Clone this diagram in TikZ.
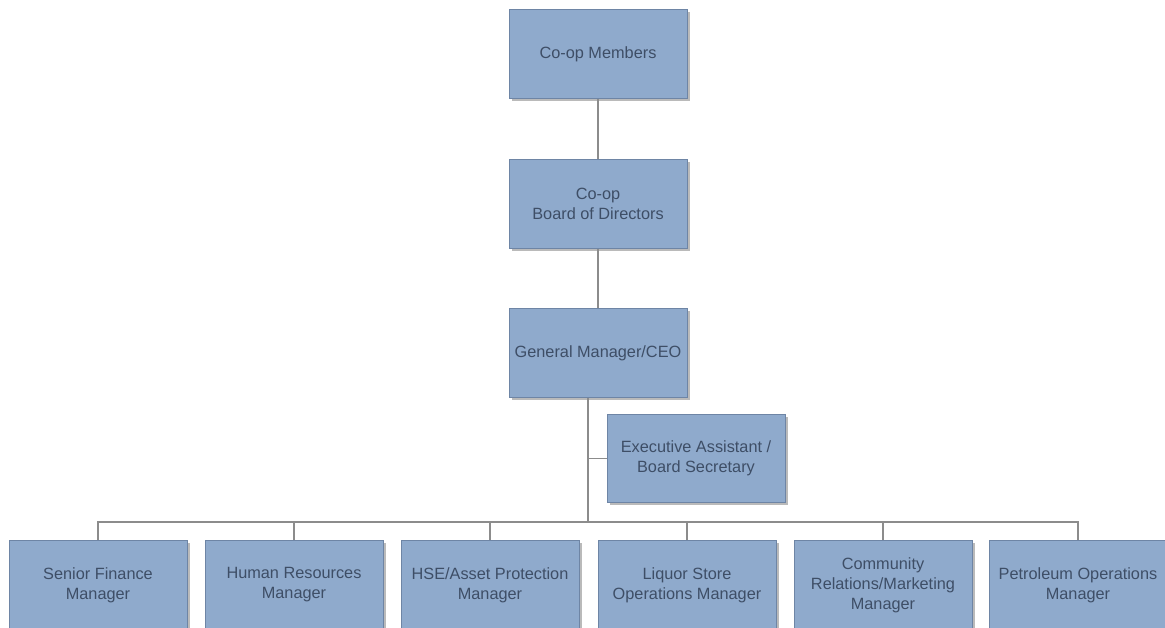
\documentclass[tikz,border=0pt]{standalone}
\usepackage{fontspec}
\setmainfont{Liberation Sans}
\usetikzlibrary{shadows}
\definecolor{boxfill}{RGB}{143,170,204}
\definecolor{boxline}{RGB}{110,133,165}
\definecolor{boxtext}{RGB}{62,78,102}
\definecolor{conn}{RGB}{140,140,140}
\tikzset{
  orgbox/.style={draw=boxline, line width=0.8pt, fill=boxfill, text=boxtext,
    minimum width=178pt, minimum height=89pt, inner sep=2pt, align=center,
    font=\fontsize{16.3}{20}\selectfont,
    drop shadow={shadow xshift=2.5pt, shadow yshift=-2.5pt, opacity=0.45, fill=black!60}},
  link/.style={draw=conn, line width=1.4pt}
}
\begin{document}
\begin{tikzpicture}[x=1pt,y=-1pt]
\useasboundingbox (0,0) rectangle (1165,627);
\clip (0,0) rectangle (1165,627);
\node[orgbox] (mem) at (598,54) {Co-op Members};
\node[orgbox] (board) at (598,204) {Co-op\\Board of Directors};
\node[orgbox] (gm) at (598,353) {General Manager/CEO};
\node[orgbox, minimum height=88pt] (exec) at (696,458.5) {Executive Assistant /\\Board Secretary};
\node[orgbox] (b1) at (98,585) {Senior Finance\\Manager};
\node[orgbox] (b2) at (294,585) {Human Resources\\Manager};
\node[orgbox] (b3) at (490,585) {HSE/Asset Protection\\Manager};
\node[orgbox] (b4) at (687,585) {Liquor Store\\Operations Manager};
\node[orgbox] (b5) at (883,585) {Community\\Relations/Marketing\\Manager};
\node[orgbox] (b6) at (1078,585) {Petroleum Operations\\Manager};
\coordinate (gmout) at (588,397.5);
\coordinate (bus) at (588,522);
\draw[link] (mem.south) -- (board.north);
\draw[link] (board.south) -- (gm.north);
\draw[link] (gmout) -- (bus);
\draw[link] (exec.west) -- (exec.west -| gmout);
\draw[link] (bus) -| (b1.north);
\draw[link] (bus) -| (b2.north);
\draw[link] (bus) -| (b3.north);
\draw[link] (bus) -| (b4.north);
\draw[link] (bus) -| (b5.north);
\draw[link] (bus) -| (b6.north);
\end{tikzpicture}
\end{document}
